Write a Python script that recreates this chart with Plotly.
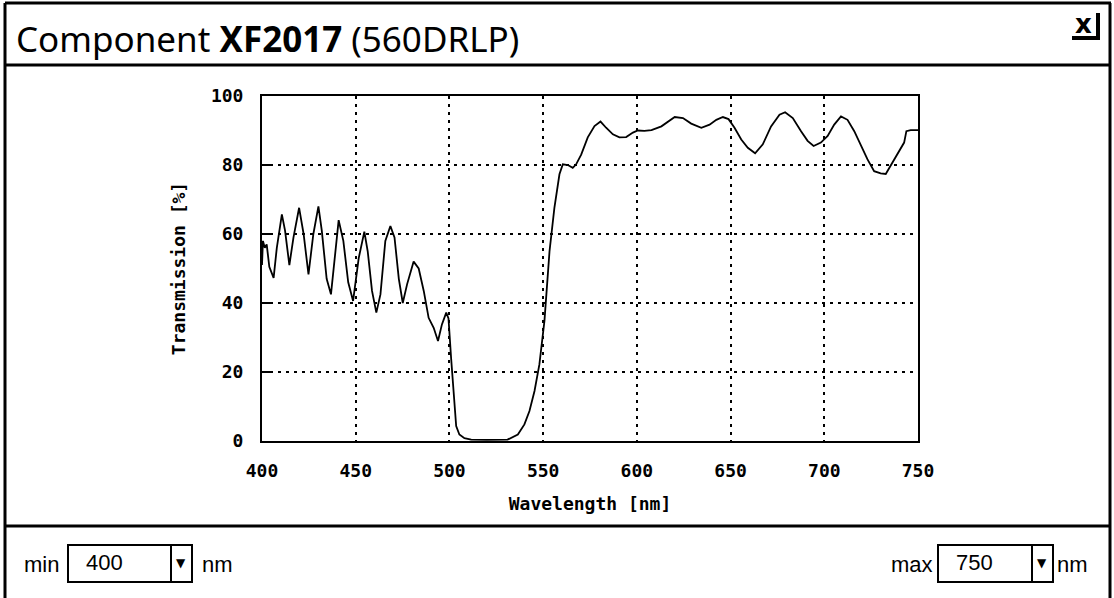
import plotly.graph_objects as go

# ---- data ----
wavelength_nm = [
    400.0, 400.5, 401.5, 402.5, 403.9, 406.2, 407.9, 410.6, 412.3, 414.6,
    416.8, 419.8, 422.2, 424.8, 427.4, 430.1, 431.9, 434.5, 436.8, 439.0,
    440.9, 443.4, 446.0, 448.6, 451.6, 454.6, 456.4, 458.7, 461.0, 463.2,
    465.8, 468.5, 470.7, 473.0, 475.1, 477.4, 480.9, 483.6, 486.3, 488.9,
    491.6, 493.9, 496.0, 498.3, 499.5, 500.9, 501.8, 502.7, 503.6, 505.3,
    508.0, 511.6, 520.0, 531.0, 536.5, 540.0, 542.7, 545.4, 548.0, 550.7,
    553.4, 556.0, 558.7, 560.5, 563.2, 565.8, 567.6, 570.3, 573.8, 577.4,
    580.6, 583.6, 587.2, 590.7, 594.3, 597.9, 600.5, 604.0, 607.8, 613.1,
    616.7, 620.2, 624.6, 629.0, 634.4, 638.8, 642.4, 645.9, 648.9, 652.1,
    655.7, 659.2, 663.1, 667.2, 671.6, 676.1, 679.1, 683.2, 687.6, 691.1,
    694.3, 698.2, 701.8, 705.3, 708.9, 712.4, 716.0, 719.5, 723.0, 726.6,
    730.1, 732.8, 735.5, 739.0, 742.6, 743.8, 746.1, 750.0,
]
transmission_pct = [
    51.0, 58.0, 56.0, 57.0, 50.5, 47.3, 56.0, 65.7, 61.0, 51.0,
    59.0, 67.6, 60.0, 48.3, 60.0, 68.0, 61.0, 47.0, 42.5, 55.0,
    64.0, 58.0, 46.0, 40.6, 53.0, 60.7, 55.0, 43.5, 37.2, 42.5,
    58.0, 62.3, 59.0, 47.0, 40.0, 45.4, 52.0, 50.0, 43.5, 35.7,
    32.8, 29.0, 33.8, 37.2, 35.5, 24.0, 16.4, 8.7, 4.3, 1.9,
    0.8, 0.4, 0.3, 0.4, 1.9, 4.8, 8.7, 14.5, 22.2, 34.8,
    55.0, 67.6, 77.3, 80.2, 80.0, 79.2, 80.2, 83.0, 88.0, 91.3,
    92.6, 90.8, 88.9, 88.0, 88.1, 89.4, 90.0, 89.9, 90.1, 91.2,
    92.7, 93.9, 93.6, 92.0, 90.8, 91.7, 93.1, 93.9, 93.3, 90.8,
    87.4, 85.0, 83.4, 86.0, 91.2, 94.6, 95.3, 93.6, 89.8, 87.0,
    85.5, 86.5, 88.4, 91.7, 94.1, 93.1, 89.8, 85.5, 81.7, 78.2,
    77.6, 77.4, 79.8, 83.1, 86.5, 89.8, 90.1, 90.1,
]
x_ticks = [400, 450, 500, 550, 600, 650, 700, 750]
y_ticks = [0, 20, 40, 60, 80, 100]
min_choice = "400"
max_choice = "750"

# ---- page geometry (pixels) ----
W, H = 1114, 598
PL, PR, PT, PB = 262, 918, 96, 441


def px(x):
    return (x - PL) / (PR - PL)


def py(y):
    return (PB - y) / (PB - PT)


fig = go.Figure()
fig.add_trace(go.Scatter(
    x=wavelength_nm, y=transmission_pct, mode="lines",
    line=dict(color="black", width=1.8), showlegend=False,
    hoverinfo="x+y",
))

mono = dict(family="DejaVu Sans Mono", size=18, color="black", weight="bold")

fig.update_xaxes(
    range=[400, 750], tickvals=x_ticks, ticktext=[str(v) for v in x_ticks],
    showline=True, linecolor="black", linewidth=2, mirror=True,
    showgrid=True, gridcolor="black", gridwidth=2, griddash="3px,5px",
    ticks="", tickfont=mono, ticklabelstandoff=12, zeroline=False,
    title=dict(text="Wavelength [nm]", font=mono, standoff=18),
)
fig.update_yaxes(
    range=[0, 100], tickvals=y_ticks, ticktext=[str(v) for v in y_ticks],
    showline=True, linecolor="black", linewidth=2, mirror=True,
    showgrid=True, gridcolor="black", gridwidth=2, griddash="3px,5px",
    ticks="inside", ticklen=8, tickwidth=2, tickcolor="black",
    tickfont=mono, ticklabelstandoff=13, zeroline=False,
    title=dict(text="Transmission [%]", font=mono, standoff=21),
)

shapes = []


def hline(y, x0, x1, w=3):
    shapes.append(dict(type="line", xref="paper", yref="paper",
                       x0=px(x0), x1=px(x1), y0=py(y), y1=py(y),
                       line=dict(color="black", width=w), layer="above"))


def vline(x, y0, y1, w=3):
    shapes.append(dict(type="line", xref="paper", yref="paper",
                       x0=px(x), x1=px(x), y0=py(y0), y1=py(y1),
                       line=dict(color="black", width=w), layer="above"))


def rect(x0, y0, x1, y1, w=2):
    shapes.append(dict(type="rect", xref="paper", yref="paper",
                       x0=px(x0), x1=px(x1), y0=py(y0), y1=py(y1),
                       line=dict(color="black", width=w), fillcolor="rgba(0,0,0,0)",
                       layer="above"))


# window frame
hline(3, 5, 1111)
vline(5, 3, 598)
vline(1110, 3, 598)
hline(65, 5, 1111)
hline(526, 5, 1111)
# close button shadow
vline(1098, 13, 40, w=4)
hline(38, 1072, 1100, w=4)
# min dropdown
rect(68, 545, 192, 582)
vline(171, 545, 582, w=2)
# max dropdown
rect(938, 545, 1053, 582)
vline(1032, 545, 582, w=2)

annotations = []


def text(x, y, s, size, family, anchor="left", weight="normal"):
    annotations.append(dict(
        xref="paper", yref="paper", x=px(x), y=py(y), text=s, showarrow=False,
        xanchor=anchor, yanchor="middle",
        font=dict(family=family, size=size, color="black", weight=weight)))


text(14, 38, "Component <b>XF2017</b> (560DRLP)", 35, "Noto Sans")
text(1083, 24, "x", 26, "DejaVu Sans", anchor="center", weight="bold")
ctl = "Liberation Sans"
text(41, 564, "min", 22, ctl, anchor="center")
text(104, 562, min_choice, 22, ctl, anchor="center")
text(181, 563, "▼", 12, "DejaVu Sans", anchor="center")
text(217, 564, "nm", 22, ctl, anchor="center")
text(912, 564, "max", 22, ctl, anchor="center")
text(974, 562, max_choice, 22, ctl, anchor="center")
text(1042, 563, "▼", 12, "DejaVu Sans", anchor="center")
text(1072, 564, "nm", 22, ctl, anchor="center")

fig.update_layout(
    width=W, height=H, autosize=False,
    margin=dict(l=PL, r=W - PR, t=PT, b=H - PB, pad=0),
    paper_bgcolor="white", plot_bgcolor="white",
    shapes=shapes, annotations=annotations, showlegend=False,
)

fig.write_html("out.html", config={"displayModeBar": False},
               post_script="document.body.style.margin='0';")
